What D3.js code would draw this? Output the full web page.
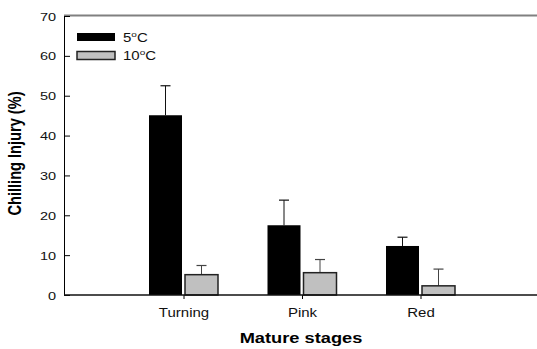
<!DOCTYPE html>
<html>
<head>
<meta charset="utf-8">
<script src="https://cdn.jsdelivr.net/npm/d3@7"></script>
<style>
  body { margin: 0; background: #fff; }
  svg { display: block; font-family: Arial, "Liberation Sans", sans-serif; }
</style>
</head>
<body>
<div id="chart"></div>
<script>
// data
const stages = ['Turning', 'Pink', 'Red'];
const series = ['5', '10'];
const injury5 = [45.1, 17.5, 12.3];
const injury10 = [5.1, 5.6, 2.3];
const err5 = [7.4, 6.3, 2.2];
const err10 = [2.3, 3.3, 4.2];
const yTicks = [0, 10, 20, 30, 40, 50, 60, 70];

const width = 537, height = 349;
const stretch = 1.25; // text in the picture is drawn wider than tall

const margin = { top: 16, right: 0, bottom: 54, left: 64 };
const plotBottom = height - margin.bottom;

const svg = d3.select('#chart').append('svg')
  .attr('width', width)
  .attr('height', height);

const x = d3.scaleLinear().domain([0, stages.length + 1]).range([65, 539]);
const y = d3.scaleLinear().domain([0, 70]).range([plotBottom, margin.top]);

const barW = 33, gap = 3;
const fills = { '5': '#000000', '10': '#c0c0c0' };
const rows = stages.map((s, i) => ({
  stage: s, i,
  bars: [
    { key: '5', value: injury5[i], err: err5[i] },
    { key: '10', value: injury10[i], err: err10[i] }
  ]
}));

// top frame line
svg.append('line')
  .attr('x1', margin.left).attr('x2', width)
  .attr('y1', margin.top - 0.5).attr('y2', margin.top - 0.5)
  .attr('stroke', '#808080').attr('stroke-width', 2);

// bars
const group = svg.selectAll('.stage').data(rows).enter()
  .append('g').attr('class', 'stage')
  .attr('transform', d => `translate(${x(d.i + 1)},0)`);

const bar = group.selectAll('.bar').data(d => d.bars).enter()
  .append('g').attr('class', 'bar');

bar.append('line')
  .attr('x1', (d, j) => j === 0 ? -gap / 2 - barW / 2 : gap / 2 + barW / 2)
  .attr('x2', (d, j) => j === 0 ? -gap / 2 - barW / 2 : gap / 2 + barW / 2)
  .attr('y1', d => y(d.value))
  .attr('y2', d => y(d.value + d.err))
  .attr('stroke', d => d.key === '5' ? '#111' : '#444')
  .attr('stroke-width', 1);

bar.append('line')
  .attr('x1', (d, j) => (j === 0 ? -gap / 2 - barW / 2 : gap / 2 + barW / 2) - 5)
  .attr('x2', (d, j) => (j === 0 ? -gap / 2 - barW / 2 : gap / 2 + barW / 2) + 5)
  .attr('y1', d => y(d.value + d.err))
  .attr('y2', d => y(d.value + d.err))
  .attr('stroke', d => d.key === '5' ? '#111' : '#444')
  .attr('stroke-width', 1.2);

bar.append('rect')
  .attr('x', (d, j) => j === 0 ? -gap / 2 - barW : gap / 2)
  .attr('y', d => y(d.value))
  .attr('width', barW)
  .attr('height', d => plotBottom - y(d.value))
  .attr('fill', d => fills[d.key])
  .attr('stroke', d => d.key === '5' ? 'none' : '#222')
  .attr('stroke-width', 1.5);

// y axis
const yAxis = svg.append('g')
  .attr('transform', `translate(${margin.left},0)`)
  .call(d3.axisLeft(y).tickValues(yTicks).tickSizeInner(-6).tickSizeOuter(0).tickPadding(8));
yAxis.select('.domain').attr('stroke', '#000').attr('stroke-width', 1);
yAxis.selectAll('.tick line').attr('stroke', '#000');
yAxis.selectAll('.tick text')
  .attr('x', -8 / stretch)
  .attr('dy', '0.35em')
  .attr('transform', `scale(${stretch},1)`)
  .attr('font-size', 11.6)
  .attr('fill', '#111');

// x axis
const xAxis = svg.append('g')
  .attr('transform', `translate(0,${plotBottom})`)
  .call(d3.axisBottom(x).tickValues(stages.map((s, i) => i + 1))
    .tickFormat(d => stages[d - 1]).tickSize(4).tickPadding(0));
xAxis.select('.domain').remove();
xAxis.selectAll('.tick line').attr('stroke', '#000');
xAxis.selectAll('.tick text')
  .attr('y', 0).attr('dy', 0)
  .attr('transform', `translate(0,22) scale(${stretch},1)`)
  .attr('font-size', 12)
  .attr('fill', '#111');

svg.append('line')
  .attr('x1', margin.left).attr('x2', width)
  .attr('y1', plotBottom).attr('y2', plotBottom)
  .attr('stroke', '#111').attr('stroke-width', 1.5);

// axis titles
svg.append('text')
  .attr('transform', `translate(301,342.5) scale(${stretch},1)`)
  .attr('text-anchor', 'middle')
  .attr('font-size', 14.6)
  .attr('font-weight', 'bold')
  .text('Mature stages');

svg.append('text')
  .attr('transform', `translate(21,153.5) scale(${stretch},1) rotate(-90)`)
  .attr('text-anchor', 'middle')
  .attr('font-size', 14.6)
  .attr('font-weight', 'bold')
  .text('Chilling Injury (%)');

// legend
const legend = svg.selectAll('.legend').data(series).enter()
  .append('g').attr('class', 'legend')
  .attr('transform', (d, i) => `translate(77,${33 + i * 18.5})`);

legend.append('rect')
  .attr('width', 38).attr('height', 8)
  .attr('fill', d => fills[d])
  .attr('stroke', d => d === '5' ? 'none' : '#222')
  .attr('stroke-width', 1.5);

const legText = legend.append('text')
  .attr('transform', `translate(46,8.5) scale(${stretch},1)`)
  .attr('font-size', 12)
  .attr('fill', '#111');
legText.append('tspan').text(d => d);
legText.append('tspan').attr('font-size', 8).attr('dy', -5).text('o');
legText.append('tspan').attr('dy', 5).text('C');
</script>
</body>
</html>
